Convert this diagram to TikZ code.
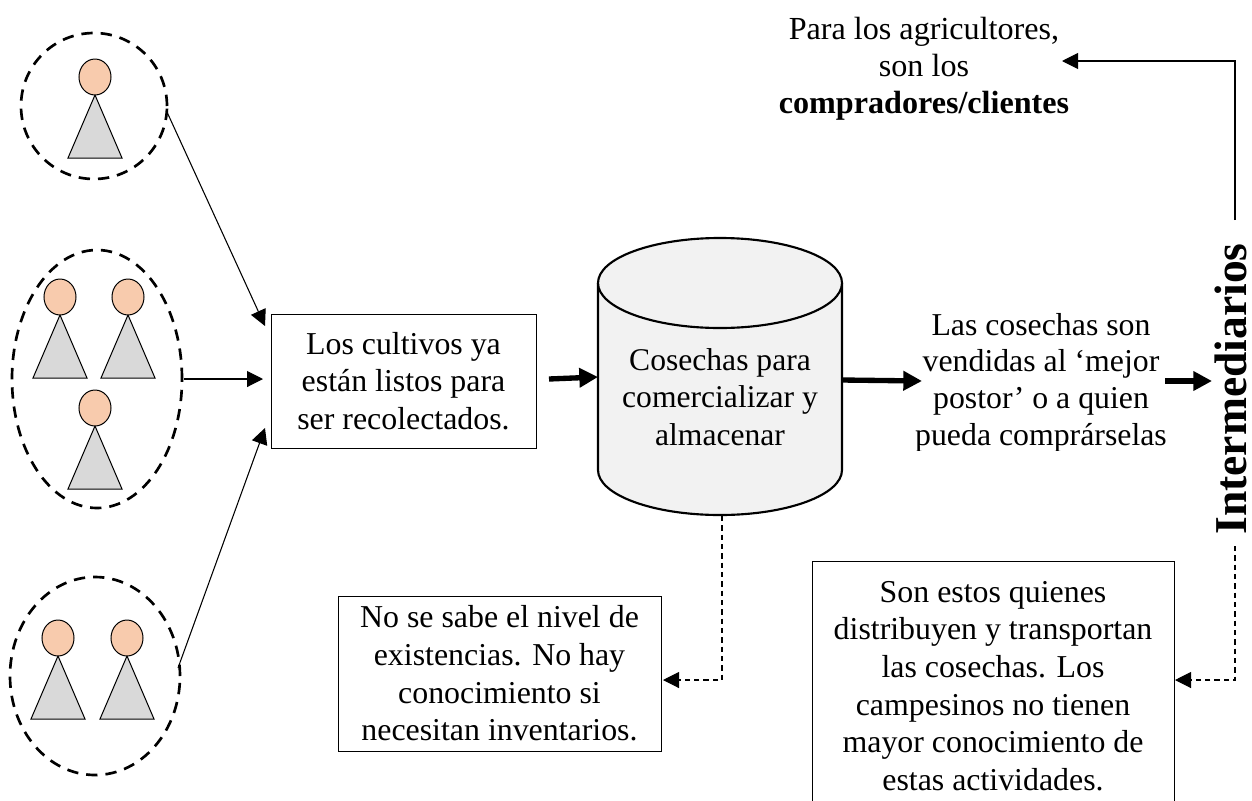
\documentclass[tikz,border=0pt]{standalone}
\usepackage{fontspec}
\setmainfont{Liberation Serif}
\usetikzlibrary{arrows.meta,shapes.geometric}
\newcommand{\personfig}[2]{%
  \draw[persona] (#1-27,#2+81) -- (#1,#2+18) -- (#1+27,#2+81) -- cycle;
  \draw[persona,fill=headc] (#1,#2) ellipse [x radius=16,y radius=18];
}
\definecolor{headc}{HTML}{F8CBAD}
\definecolor{bodyc}{HTML}{D9D9D9}
\definecolor{cylc}{HTML}{F2F2F2}
\tikzset{
  x=0.75pt,y=-0.75pt,
  persona/.style={draw=black,line width=0.75pt,fill=bodyc},
  grupo/.style={draw=black,line width=2pt,dash pattern=on 8.5pt off 6pt,ellipse,inner sep=0pt,minimum width=0pt},
  caja/.style={draw=black,line width=0.75pt,fill=white,align=center,inner sep=0pt,font=\fontsize{23.9}{28.3}\selectfont},
  texto/.style={align=center,inner sep=0pt,font=\fontsize{23.7}{27.9}\selectfont},
  fina/.style={line width=0.8pt,-{Triangle[length=12pt,width=12pt]}},
  discont/.style={line width=0.8pt,dash pattern=on 4pt off 3pt,-{Triangle[length=12pt,width=12pt]}},
  gruesa/.style={line width=4pt,-{Triangle[length=14pt,width=14pt]}}
}
\begin{document}
\begin{tikzpicture}
\useasboundingbox (0,0) rectangle (1252,800);
\clip (0,0) rectangle (1252,800);
% groups
\node[grupo,minimum width=109.5pt,minimum height=109.5pt] (g1) at (94,106) {};
\node[grupo,minimum width=127.5pt,minimum height=193.5pt] (g2) at (97,379) {};
\node[grupo,minimum width=127.5pt,minimum height=148.5pt] (g3) at (95,676) {};
\personfig{95}{77}
\personfig{60}{297}
\personfig{128}{297}
\personfig{95}{408}
\personfig{58}{638}
\personfig{127}{638}
% boxes
\node[caja,font=\fontsize{23.9}{28.1}\selectfont,minimum width=198.75pt,minimum height=100.5pt] (b1) at (403.5,381) {Los cultivos ya\\están listos para\\ser recolectados.};
\node[caja,minimum width=242.25pt,minimum height=116.25pt] (b2) at (499.5,673.5) {No se sabe el nivel de\\existencias. No hay\\conocimiento si\\necesitan inventarios.};
\node[caja,minimum width=271.5pt,minimum height=187.5pt] (b3) at (993,686) {Son estos quienes\\distribuyen y transportan\\las cosechas. Los\\campesinos no tienen\\mayor conocimiento de\\estas actividades.};
% cylinder
\draw[line width=1.6pt,fill=cylc] (598,283) -- (598,470) arc[start angle=180,end angle=360,x radius=122,y radius=-45] -- (842,283);
\draw[line width=1.6pt,fill=cylc] (720,283) ellipse [x radius=122,y radius=45];
\node[texto] (cil) at (720,397) {Cosechas para\\comercializar y\\almacenar};
\coordinate (cilL) at (598,377);
\coordinate (cilR) at (842,380);
\coordinate (cilB) at (722,516);
% texts
\node[texto,font=\fontsize{24.1}{27.8}\selectfont] (t1) at (924,68.5) {Para los agricultores,\\son los\\\textbf{compradores/clientes}};
\begin{scope}
\clip (900,300) rectangle (1200,450.5);
\node[texto,font=\fontsize{23.85}{27.5}\selectfont] (t2) at (1041,382.5) {Las cosechas son\\vendidas al ‘mejor\\postor’ o a quien\\pueda comprárselas};
\end{scope}
\node[inner sep=0pt,rotate=90,font=\fontsize{34.2}{40}\selectfont\bfseries] (inter) at (1231,389) {Intermediarios};
% connectors
\coordinate (a1) at (167,112); \coordinate (a1e) at (265,326);
\coordinate (a2) at (184,379); \coordinate (a2e) at (263,379);
\coordinate (a3) at (178,668); \coordinate (a3e) at (265,428);
\draw[fina] (a1) -- (a1e);
\draw[fina] (a2) -- (a2e);
\draw[fina] (a3) -- (a3e);
\coordinate (b1r) at (549,379);
\draw[gruesa] (b1r) -- (cilL);
\coordinate (t2l) at (922,381);
\draw[gruesa] (cilR) -- (t2l);
\coordinate (t2r) at (1165,381); \coordinate (il) at (1212,381);
\draw[gruesa] (t2r) -- (il);
\coordinate (itop) at (1235,220); \coordinate (tr) at (1062,61);
\draw[fina] (itop) |- (tr);
\coordinate (ibot) at (1235,546); \coordinate (b3r) at (1175,680);
\draw[discont] (ibot) |- (b3r);
\coordinate (b2r) at (663,680);
\draw[discont] (cilB) |- (b2r);
\end{tikzpicture}
\end{document}
